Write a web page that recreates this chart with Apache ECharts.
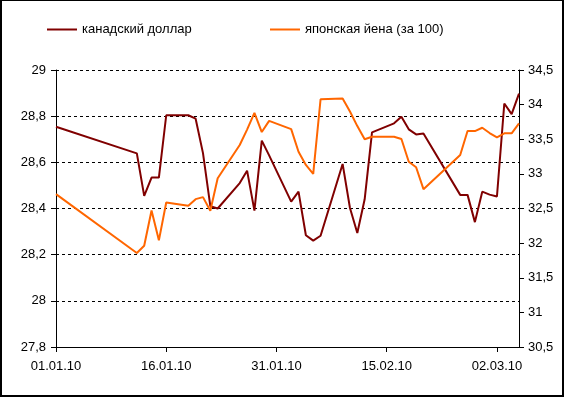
<!DOCTYPE html>
<html>
<head>
<meta charset="utf-8">
<script src="https://cdn.jsdelivr.net/npm/echarts@6/dist/echarts.min.js"></script>
<style>
  html, body { margin: 0; padding: 0; background: #fff; }
  #chart {
    width: 564px;
    height: 397px;
    box-sizing: border-box;
    border: 2px solid #000;
    border-top-width: 1px;
  }
</style>
</head>
<body>
<div id="chart"></div>
<script>
// даты котировок
const dates = [
  '01.01.10', '12.01.10', '13.01.10', '14.01.10', '15.01.10', '16.01.10',
  '19.01.10', '20.01.10', '21.01.10', '22.01.10', '23.01.10',
  '26.01.10', '27.01.10', '28.01.10', '29.01.10', '30.01.10',
  '02.02.10', '03.02.10', '04.02.10', '05.02.10', '06.02.10',
  '09.02.10', '10.02.10', '11.02.10', '12.02.10', '13.02.10',
  '16.02.10', '17.02.10', '18.02.10', '19.02.10', '20.02.10',
  '25.02.10', '26.02.10', '27.02.10', '28.02.10', '01.03.10',
  '02.03.10', '03.03.10', '04.03.10', '05.03.10'
]
const cad = [
  28.754, 28.639, 28.455, 28.534, 28.534, 28.804,
  28.804, 28.789, 28.64, 28.41, 28.40,
  28.51, 28.564, 28.391, 28.694, 28.63,
  28.43, 28.473, 28.284, 28.261, 28.282,
  28.593, 28.402, 28.294, 28.44, 28.73,
  28.769, 28.797, 28.743, 28.721, 28.725,
  28.459, 28.459, 28.341, 28.473, 28.46,
  28.452, 28.855, 28.809, 28.898
]
const jpy = [
  32.707, 31.858, 31.963, 32.471, 32.04, 32.586,
  32.539, 32.635, 32.664, 32.467, 32.937,
  33.417, 33.64, 33.881, 33.604, 33.766,
  33.647, 33.32, 33.129, 33.0, 34.078,
  34.09, 33.90, 33.69, 33.50, 33.536,
  33.536, 33.503, 33.176, 33.096, 32.779,
  33.273, 33.618, 33.618, 33.666, 33.59,
  33.527, 33.585, 33.585, 33.729
]
const tickLabels = ['01.01.10', '16.01.10', '31.01.10', '15.02.10', '02.03.10']
const lastDate = '05.03.10'
const names = ['канадский доллар', 'японская йена (за 100)']

// дни от начала периода
const toDay = (s) => {
  const [d, m, y] = s.split('.').map(Number)
  return Math.round((Date.UTC(2000 + y, m - 1, d) - Date.UTC(2010, 0, 1)) / 86400000)
}
const dayToLabel = {}
tickLabels.forEach(s => { dayToLabel[toDay(s)] = s })
const tickDays = tickLabels.map(toDay)

const fmt = (v) => String(Math.round(v * 10) / 10).replace('.', ',')
const font = { fontFamily: 'Liberation Sans, Arial, sans-serif', fontSize: 13, color: '#000' }
const axisLine = { show: true, lineStyle: { color: '#000', width: 1 } }

const chart = echarts.init(document.getElementById('chart'))
chart.setOption({
  animation: false,
  legend: [
    {
      data: [names[0]],
      left: 45,
      top: 22,
      padding: 0,
      icon: 'rect',
      itemWidth: 30,
      itemHeight: 2,
      textStyle: font
    },
    {
      data: [names[1]],
      left: 268,
      top: 22,
      padding: 0,
      icon: 'rect',
      itemWidth: 30,
      itemHeight: 2,
      textStyle: font
    }
  ],
  grid: { left: 54, right: 43, top: 69, bottom: 48 },
  xAxis: {
    type: 'value',
    min: 0,
    max: toDay(lastDate),
    axisLine: axisLine,
    axisTick: { show: true, inside: false, length: 5, lineStyle: { color: '#000' }, customValues: tickDays },
    axisLabel: Object.assign({ margin: 13, customValues: tickDays, formatter: v => dayToLabel[v] || '' }, font),
    splitLine: { show: false }
  },
  yAxis: [
    {
      type: 'value',
      min: 27.8,
      max: 29,
      interval: 0.2,
      axisLine: axisLine,
      axisTick: { show: true, length: 5, lineStyle: { color: '#000' } },
      axisLabel: Object.assign({ margin: 10, formatter: fmt }, font),
      splitLine: { show: true, lineStyle: { color: '#000', type: [3, 3], width: 1 } }
    },
    {
      type: 'value',
      min: 30.5,
      max: 34.5,
      interval: 0.5,
      position: 'right',
      axisLine: axisLine,
      axisTick: { show: true, length: 5, lineStyle: { color: '#000' } },
      axisLabel: Object.assign({ margin: 9, formatter: fmt }, font),
      splitLine: { show: false }
    }
  ],
  series: [
    {
      name: names[0],
      type: 'line',
      yAxisIndex: 0,
      symbol: 'none',
      color: '#800000',
      lineStyle: { width: 2, color: '#800000' },
      data: dates.map((d, i) => [toDay(d), cad[i]])
    },
    {
      name: names[1],
      type: 'line',
      yAxisIndex: 1,
      symbol: 'none',
      color: '#ff6600',
      lineStyle: { width: 2, color: '#ff6600' },
      data: dates.map((d, i) => [toDay(d), jpy[i]])
    }
  ]
})
</script>
</body>
</html>
